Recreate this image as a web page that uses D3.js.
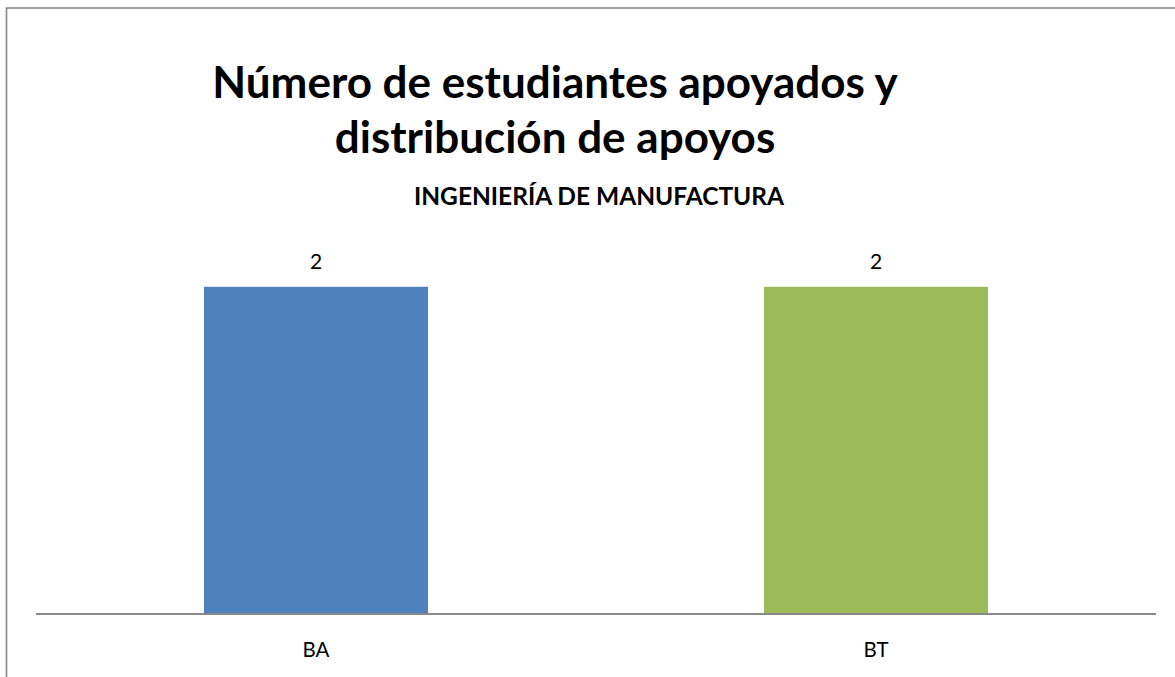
<!DOCTYPE html>
<html>
<head>
<meta charset="utf-8">
<script src="https://cdn.jsdelivr.net/npm/d3@7"></script>
<style>
  html, body { margin: 0; padding: 0; background: #fff; overflow: hidden; }
  svg { display: block; }
</style>
</head>
<body>
<svg id="chart" width="1175" height="677"></svg>
<script>
// Data
const categories = ["BA", "BT"];
const values = [2, 2];
const barColors = ["#4F81BD", "#9BBB59"];
const titleLines = ["Número de estudiantes apoyados y", "distribución de apoyos"];
const subtitle = "INGENIERÍA DE MANUFACTURA";

const W = 1175, H = 677;
const svg = d3.select("#chart");
const font = "Lato, 'Open Sans', 'DejaVu Sans', sans-serif";

// Chart area frame (left and top edges fall inside the view)
svg.append("path")
  .attr("d", `M6.5,${H}V8H${W}`)
  .attr("fill", "none")
  .attr("stroke", "#878787")
  .attr("stroke-width", 1.6);

// Plot area
const plot = { left: 36, right: 1156, top: 205, bottom: 614 };

const x = d3.scaleBand()
  .domain(categories)
  .range([plot.left, plot.right])
  .paddingInner(0.6)
  .paddingOuter(0.3);

const y = d3.scaleLinear()
  .domain([0, 2.5])
  .range([plot.bottom, plot.top]);

// Bars
svg.append("g").selectAll("rect")
  .data(categories)
  .join("rect")
  .attr("x", d => x(d))
  .attr("y", (d, i) => y(values[i]))
  .attr("width", x.bandwidth())
  .attr("height", (d, i) => y(0) - y(values[i]))
  .attr("fill", (d, i) => barColors[i]);

// Value labels
svg.append("g").selectAll("text")
  .data(categories)
  .join("text")
  .attr("x", d => x(d) + x.bandwidth() / 2)
  .attr("y", (d, i) => y(values[i]) - 18)
  .attr("text-anchor", "middle")
  .attr("font-family", font)
  .attr("font-size", 21)
  .attr("fill", "#000")
  .text((d, i) => values[i]);

// Category axis
const xAxis = d3.axisBottom(x).tickSize(0).tickPadding(0);
const gx = svg.append("g")
  .attr("transform", `translate(0,${plot.bottom})`)
  .call(xAxis);
gx.select(".domain")
  .attr("d", `M${plot.left},0H${plot.right}`)
  .attr("stroke", "#8a8a8a")
  .attr("stroke-width", 2);
gx.selectAll(".tick text")
  .attr("y", 0)
  .attr("dy", 43)
  .attr("font-family", font)
  .attr("font-size", 20.5)
  .attr("fill", "#000");

// Title
svg.append("g").selectAll("text")
  .data(titleLines)
  .join("text")
  .attr("x", 555)
  .attr("y", (d, i) => 98 + i * 55)
  .attr("text-anchor", "middle")
  .attr("font-family", font)
  .attr("font-weight", "bold")
  .attr("font-size", 44)
  .attr("fill", "#000")
  .text(d => d);

// Subtitle
svg.append("text")
  .attr("x", 599)
  .attr("y", 205)
  .attr("text-anchor", "middle")
  .attr("font-family", font)
  .attr("font-weight", "bold")
  .attr("font-size", 24.5)
  .attr("fill", "#000")
  .text(subtitle);
</script>
</body>
</html>
